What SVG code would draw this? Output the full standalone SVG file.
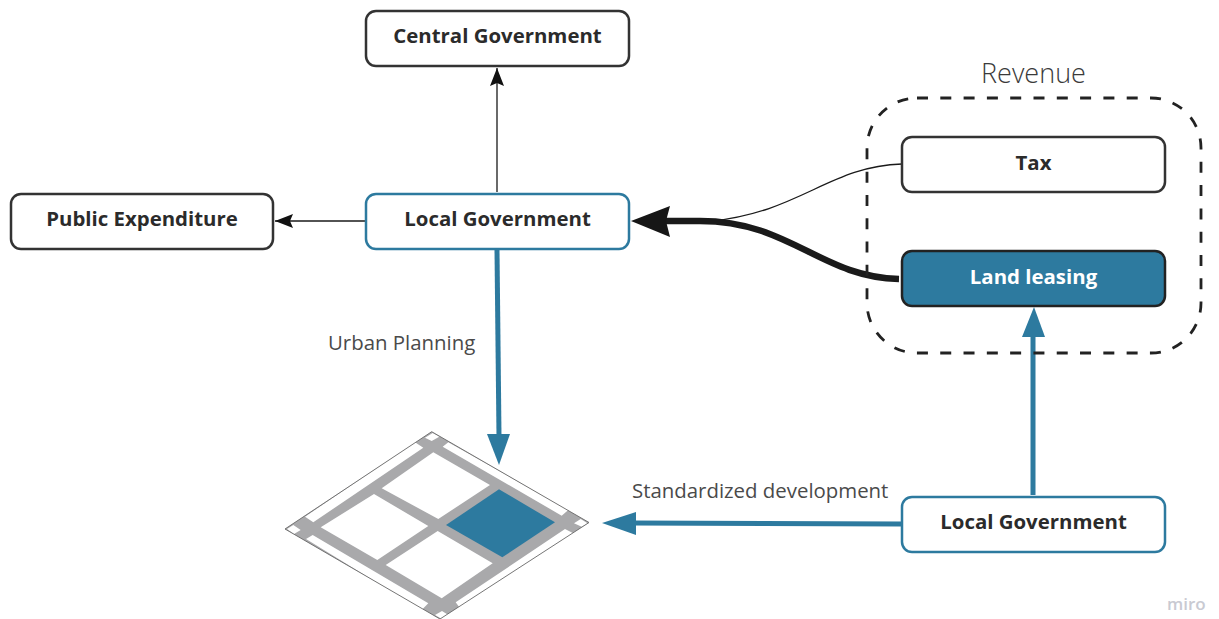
<svg xmlns="http://www.w3.org/2000/svg" width="1219" height="619" viewBox="0 0 1219 619">
<style>
.box{fill:#fff;stroke:#333;stroke-width:2.5}
.blue{fill:#fff;stroke:#2d7a9f;stroke-width:2.5}
.t{font-family:"Open Sans",sans-serif;font-weight:700;font-size:20.4px;fill:#2b2b2b;text-anchor:middle}
.l{font-family:"Open Sans",sans-serif;font-size:20.4px;fill:#4a4a4a}
.c{fill:none;stroke:#1a1a1a}
.cb{fill:none;stroke:#2d7a9f;stroke-width:5}
</style>
<defs>
<marker id="ak" markerUnits="userSpaceOnUse" markerWidth="20" markerHeight="16" refX="18" refY="8" orient="auto"><path d="M0 1L18 8L0 15L3 8Z" fill="#111"/></marker>
</defs>
<g id="connectors">
<path class="c" stroke-width="1.3" d="M497 192V68" marker-end="url(#ak)"/>
<path class="c" stroke-width="1.3" d="M366 221H275" marker-end="url(#ak)"/>
<path class="c" stroke-width="1.3" d="M902 164C830 166 800 212 712 221"/>
<path class="c" stroke-width="6.5" d="M899 279C820 277 790 221 700 221H664"/>
<path d="M631 221L670 206L666 221L670 237Z" fill="#161616"/>
<path class="cb" d="M497 250L499 436"/>
<path d="M487 434L499 465L510 434Z" fill="#2d7a9f"/>
<path class="cb" d="M1033 495V335"/>
<path d="M1022 337L1034 307L1045 337Z" fill="#2d7a9f"/>
<path class="cb" d="M902 524L632 523"/>
<path d="M636 512L602 523L636 535Z" fill="#2d7a9f"/>
</g>
<g id="central-government"><rect class="box" x="366" y="11" width="263" height="55" rx="10"/><text class="t" x="497.500" y="43">Central Government</text></g>
<g id="public-expenditure"><rect class="box" x="11" y="194" width="262" height="55" rx="10"/><text class="t" x="142" y="226">Public Expenditure</text></g>
<g id="local-government-1"><rect class="blue" x="366" y="194" width="263" height="55" rx="10"/><text class="t" x="497.500" y="226">Local Government</text></g>
<g id="revenue"><rect x="867" y="98" width="334" height="255" rx="50" fill="none" stroke="#222" stroke-width="2.800" stroke-dasharray="11 12.300"/><text x="1033.500" y="83" font-family="'Open Sans',sans-serif" font-weight="300" font-size="27px" fill="#3a3a3a" text-anchor="middle">Revenue</text></g>
<g id="tax"><rect class="box" x="902" y="137" width="263" height="55" rx="10"/><text class="t" x="1033.500" y="170">Tax</text></g>
<g id="land-leasing"><rect x="902" y="251" width="263" height="55" rx="10" fill="#2d7a9f" stroke="#222" stroke-width="2.500"/><text class="t" x="1033.500" y="284" style="fill:#fff">Land leasing</text></g>
<g id="local-government-2"><rect class="blue" x="902" y="497" width="263" height="55" rx="10"/><text class="t" x="1033.500" y="529">Local Government</text></g>
<g id="labels">
<text class="l" x="328" y="350">Urban Planning</text>
<text class="l" x="632" y="498">Standardized development</text>
<text x="1167" y="610" font-family="'Open Sans',sans-serif" font-weight="600" font-size="17px" fill="#c9cad2">miro</text>
</g>
<g id="plan">
<path d="M431.700 431.700L589 522.500L440 619L285 529Z" fill="#a9a9ab"/>
<path d="M305 516.700L415 442.300L423.300 447.700L313.300 522.300Z M442.700 446.700L448.300 442.300L568.300 510L561.700 515.700Z M306 539L312.700 535L428.300 603.300L421.700 610Z M455.700 602.300L565 529L573.300 533.300L460 608.300Z" fill="#fff"/>
<path d="M425 437.700L432.700 433L439.300 436.700L431.700 441Z M287 529L293.300 525L300.700 530L294 534Z M574 523.300L580.700 519L587.500 523.300L581.700 526.700Z M435 615L442 611L450 616L441 618.500Z" fill="#fff"/>
<path d="M433.300 452.300L490 485L438.300 519L381.700 488.300Z M374 494L428.300 526L377.300 560L320.700 527.300Z M437.700 531L492.700 563.300L441.700 598.300L385.700 565Z" fill="#fff"/>
<path d="M499 489.300L555 522.300L502.300 557.300L446 525Z" fill="#2d7a9f"/>
<path d="M431.700 431.700L589 522.500L440 619L285 529Z" fill="none" stroke="#666" stroke-width="0.900"/>
</g>
</svg>
